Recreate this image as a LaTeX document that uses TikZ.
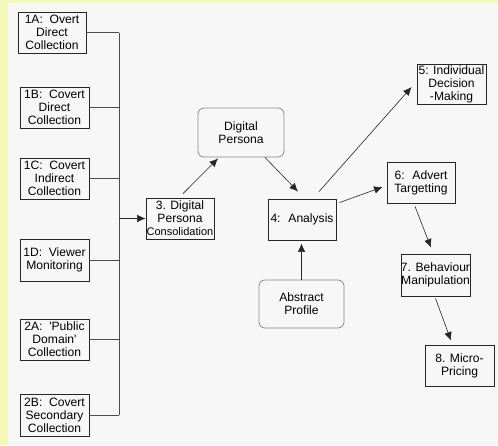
\documentclass[tikz,border=0pt]{standalone}
\usepackage{fontspec}
\setmainfont{Liberation Sans}
\usepackage{xcolor}
\usetikzlibrary{arrows.meta,calc}
\definecolor{pageyellow}{HTML}{F3F7B7}
\definecolor{panelgrey}{HTML}{F7F7F7}
\definecolor{edgegrey}{HTML}{8A8A8A}

\begin{document}
\begin{tikzpicture}[x=1pt,y=-1pt,
	box/.style={draw=black!85,line width=0.8pt,inner sep=0pt,minimum width=68pt,minimum height=41pt,align=center,font=\fontsize{12.1}{13}\selectfont},
	rbox/.style={box,draw=edgegrey,rounded corners=6pt},
	wire/.style={draw=black!70,line width=0.8pt},
	arr/.style={draw=black!85,line width=0.6pt,-{Latex[length=8.5pt,width=7.5pt]}}]
		\useasboundingbox (0,0) rectangle (498,445);
		\fill[pageyellow] (0,0) rectangle (498,445);
		\fill[panelgrey] (8,3) rectangle (498,445);
		% sources
		\node[box] (a1) at (52,32.5) {1A:~ Overt\\Direct\\Collection};
		\node[box,minimum width=69pt] (b1) at (54.5,107.5) {1B:~ Covert\\Direct\\Collection};
		\node[box,minimum width=69pt] (c1) at (54.5,178.5) {1C:~ Covert\\Indirect\\Collection};
		\node[box,minimum width=69pt,minimum height=42pt] (d1) at (54.5,260) {1D:~ Viewer\\Monitoring};
		\node[box,minimum width=69pt] (a2) at (54.5,339.5) {2A:~ \textquotesingle Public\\Domain\textquotesingle\\Collection};
		\node[box,minimum width=69pt,minimum height=42pt] (b2) at (54.5,415) {2B:~ Covert\\Secondary\\Collection};
		% bus into consolidation
		\coordinate (bus) at (119,0);
		\foreach \n in {a1,b1,c1,d1,a2,b2}
			\draw[wire] (\n.east) -- (\n.east -| bus);
		\draw[wire] (a1.east -| bus) -- (b2.east -| bus);
		\node[box] (cons) at (180,218.5) {3. Digital\\Persona\\{\fontsize{11}{12}\selectfont Consolidation}};
		\draw[arr] (cons.west -| bus) -- (cons.west);
		% persona and analysis
		\node[rbox,minimum width=86pt,minimum height=49pt] (persona) at (241,132.5) {Digital\\Persona};
		\node[box] (anal) at (302,219.5) {4:~ Analysis};
		\node[rbox,minimum width=85pt,minimum height=48pt] (abstr) at (301.5,304) {Abstract\\Profile};
		\draw[arr] ([xshift=3pt,yshift=4pt]cons.north) -- ([xshift=-23pt,yshift=-1pt]persona.south);
		\draw[arr] ([xshift=24pt]persona.south) -- ([xshift=-4pt,yshift=7pt]anal.north);
		\draw[arr] (abstr.north) -- ([yshift=-3pt]abstr.north |- anal.south);
		% outcomes
		\node[box,minimum width=69pt,minimum height=40pt] (decide) at (451.5,84) {5: Individual\\Decision\\-Making};
		\node[box] (advert) at (421,182.5) {6:~ Advert\\Targetting};
		\node[box,minimum width=69pt,minimum height=42pt] (behav) at (435.5,275) {7. Behaviour\\Manipulation};
		\node[box,minimum width=69pt] (price) at (459.5,365.5) {8. Micro-\\Pricing};
		\draw[arr] ([xshift=17pt,yshift=7pt]anal.north) -- ([xshift=-5pt,yshift=-3pt]decide.west);
		\draw[arr] ([xshift=3pt,yshift=-4pt]anal.north east) -- ([xshift=-4pt,yshift=-4.5pt]advert.west);
		\draw[arr] ([xshift=-6pt,yshift=-3pt]advert.south) -- ([xshift=-4.5pt,yshift=6pt]behav.north);
		\draw[arr] ([yshift=-2pt]behav.south) -- ([xshift=-8.5pt,yshift=4pt]price.north);
	\end{tikzpicture}
\end{document}
